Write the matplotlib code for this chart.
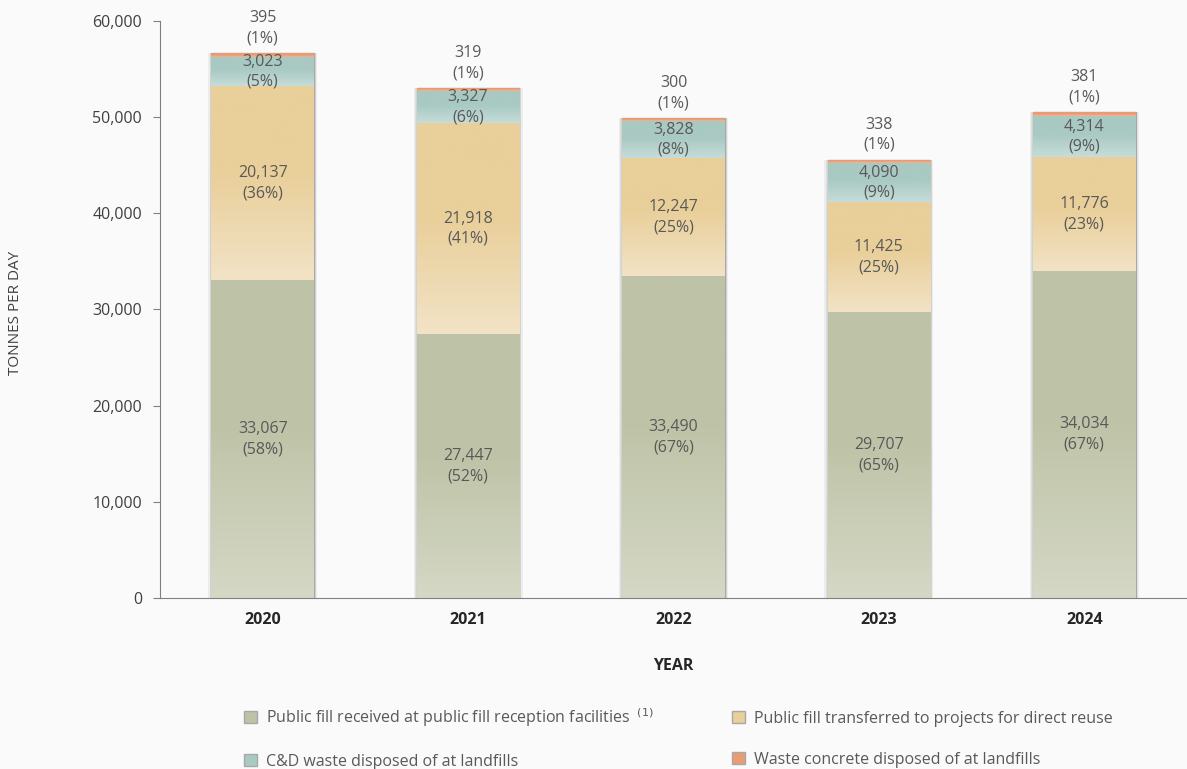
import matplotlib.pyplot as plt
import numpy as np
from matplotlib.colors import LinearSegmentedColormap

years = ["2020", "2021", "2022", "2023", "2024"]
reception = [33067, 27447, 33490, 29707, 34034]
reuse = [20137, 21918, 12247, 11425, 11776]
cd_waste = [3023, 3327, 3828, 4090, 4314]
concrete = [395, 319, 300, 338, 381]
pct_reception = [58, 52, 67, 65, 67]
pct_reuse = [36, 41, 25, 25, 23]
pct_cd = [5, 6, 8, 9, 9]
pct_concrete = [1, 1, 1, 1, 1]

labels = ["Public fill received at public fill reception facilities$^{\\ \\ (1)}$",
          "Public fill transferred to projects for direct reuse",
          "C&D waste disposed of at landfills",
          "Waste concrete disposed of at landfills"]
# (top colour, bottom colour) for the gradient fill
colors = [("#bec3a7", "#d4d8c5"), ("#e9cf9a", "#f2e3c6"),
          ("#a9c9c3", "#c6ddd9"), ("#e99c74", "#f0b898")]

plt.rcParams['font.family'] = ['Open Sans', 'DejaVu Sans']
bg = "#fafafa"
fig = plt.figure(figsize=(11.87, 7.69), dpi=100, facecolor=bg)
ax = fig.add_axes([0.1348, 0.2224, 0.8652, 0.7503], facecolor=bg)

x = np.arange(len(years))
w = 0.5
series = [reception, reuse, cd_waste, concrete]
pcts = [pct_reception, pct_reuse, pct_cd, pct_concrete]
bottom = np.zeros(len(years))
grad = np.linspace(0, 1, 256).reshape(-1, 1)
for k, vals in enumerate(series):
    vals = np.array(vals, dtype=float)
    bars = ax.bar(x, vals, w, bottom=bottom, color=colors[k][0],
                  edgecolor="#a8a8a8", linewidth=1, label=labels[k], zorder=2)
    lo, hi = colors[k][1], colors[k][0]
    cmap = LinearSegmentedColormap.from_list("g%d" % k, [(0, lo), (0.55, hi), (1, hi)])
    for b in bars:
        x0, y0 = b.get_x(), b.get_y()
        # soft shadow around the bar
        for s, a in [(0.03, 0.05), (0.018, 0.07)]:
            ax.bar(x0 + b.get_width() / 2, b.get_height(), b.get_width() + s, bottom=y0,
                   color="#000000", alpha=a, linewidth=0, zorder=1.5)
        im = ax.imshow(grad, extent=[x0, x0 + b.get_width(), y0, y0 + b.get_height()],
                       origin="lower", aspect="auto", cmap=cmap, zorder=2.5)
        im.set_clip_path(b)
    for i in range(len(years)):
        txt = "{:,}\n({}%)".format(int(vals[i]), pcts[k][i])
        if k < 3:
            ax.text(x[i], bottom[i] + vals[i] / 2, txt, ha="center", va="center",
                    fontsize=11.5, color="#595959", linespacing=1.35, zorder=4)
        else:
            ax.annotate(txt, (x[i], bottom[i] + vals[i]), xytext=(0, 5),
                        textcoords="offset points", ha="center", va="bottom",
                        fontsize=11.5, color="#595959", linespacing=1.35, zorder=4)
    bottom += vals

ax.set_xlim(-0.5, 4.5)
ax.set_ylim(0, 60000)
ax.set_yticks(np.arange(0, 60001, 10000))
ax.set_yticklabels(["{:,}".format(v) for v in range(0, 60001, 10000)])
ax.set_xticks(x)
ax.set_xticklabels(years, fontweight="bold")
ax.tick_params(axis="y", length=5, color="#808080", labelsize=11.5, labelcolor="#404040", pad=8)
ax.tick_params(axis="x", length=0, labelsize=11.5, labelcolor="#262626", pad=10)
for s in ["top", "right"]:
    ax.spines[s].set_visible(False)
ax.spines["left"].set_color("#808080")
ax.spines["bottom"].set_color("#808080")
ax.set_xlabel("YEAR", fontsize=11.5, fontweight="bold", color="#262626", labelpad=22)
fig.text(0.013, 0.5936, "TONNES PER DAY", rotation=90, ha="center", va="center",
         fontsize=11, color="#404040")

handles, labs = ax.get_legend_handles_labels()
order = [0, 2, 1, 3]
fig.legend([handles[i] for i in order], [labs[i] for i in order], loc="upper left",
           bbox_to_anchor=(0.2, 0.09), ncol=2,
           frameon=False, fontsize=11.5, labelcolor="#595959", handlelength=0.8,
           handleheight=0.8, handletextpad=0.6, columnspacing=4.9, labelspacing=1.55,
           borderaxespad=0)

fig.savefig("out.png", dpi=100, facecolor=bg)
